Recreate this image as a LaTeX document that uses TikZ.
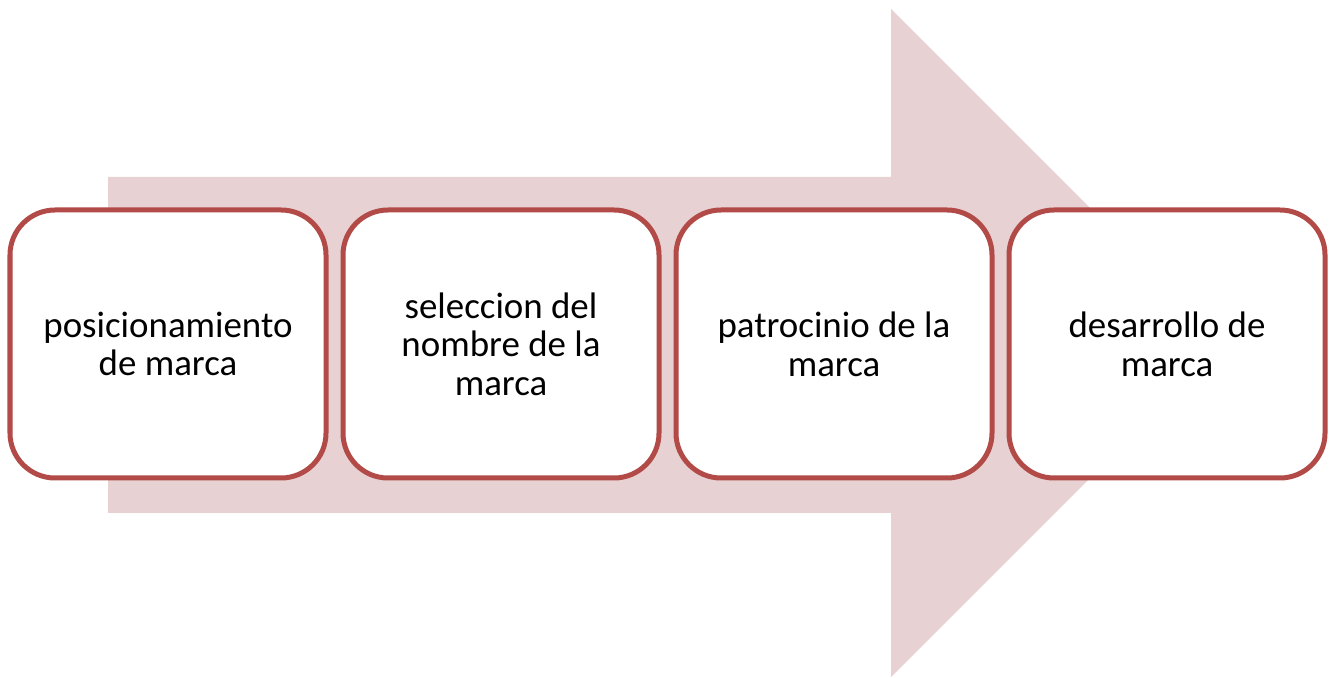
\documentclass[tikz,border=0pt]{standalone}
\usepackage{fontspec}
\setmainfont{Carlito}
\usetikzlibrary{positioning}
\definecolor{marcaRed}{RGB}{178,75,72}
\definecolor{marcaPink}{RGB}{232,209,210}
\tikzset{paso/.style={draw=marcaRed, line width=0.1cm, fill=white, rounded corners=0.9cm,
    minimum width=6.32cm, minimum height=5.36cm, outer sep=0pt, inner sep=0pt,
    align=center, font=\fontsize{21}{22}\selectfont}}

\begin{document}
\begin{tikzpicture}[node distance=0.34cm]
			%%%%% START %%%%%
			\useasboundingbox (0,0) rectangle (26.68,13.54);
			
			\fill[marcaPink] (2.16,3.28) -- (17.82,3.28) -- (17.82,0) -- (24.5,6.68)
			    -- (17.82,13.36) -- (17.82,10) -- (2.16,10) -- cycle;
			
			\node[paso] (pos) at (3.36,6.66) {posicionamiento\\de marca};
			\node[paso, right=of pos] (sel) {seleccion del\\nombre de la\\marca};
			\node[paso, right=of sel] (pat) {patrocinio de la\\marca};
			\node[paso, right=of pat] (des) {desarrollo de\\marca};
			
			%%%%% END %%%%%
\end{tikzpicture}
\end{document}
